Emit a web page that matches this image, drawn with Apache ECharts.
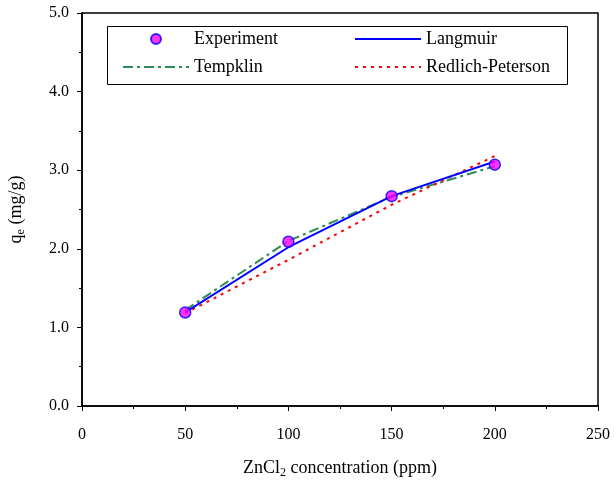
<!DOCTYPE html>
<html>
<head>
<meta charset="utf-8">
<script src="https://cdn.jsdelivr.net/npm/echarts@6/dist/echarts.min.js"></script>
<style>
  html, body { margin: 0; padding: 0; background: #fff; }
  #chart { width: 614px; height: 481px; }
</style>
</head>
<body>
<div id="chart"></div>
<script>
// ZnCl2 concentrations (ppm)
const concentrations = [50, 100, 150, 200];
// Measured uptake q_e (mg/g)
const experiment = [1.19, 2.09, 2.67, 3.07];
// Isotherm model fits (mg/g)
const langmuir = [1.19, 2.02, 2.67, 3.11];
const tempklin = [1.22, 2.10, 2.66, 3.05];
const redlichPeterson = [1.18, 1.86, 2.56, 3.18];

const xTicks = [0, 50, 100, 150, 200, 250];
const yTicks = [0, 1, 2, 3, 4, 5];

const pair = (ys) => concentrations.map((x, i) => [x, ys[i]]);
const FONT = '"Liberation Serif", "DejaVu Serif", serif';

// rich styles for titles with a subscript
const titleRich = {
  a: { fontFamily: FONT, fontSize: 18, color: '#000', height: 22, lineHeight: 22, verticalAlign: 'top' },
  s: { fontFamily: FONT, fontSize: 12, color: '#000', height: 13, lineHeight: 13, verticalAlign: 'bottom' }
};

const chart = echarts.init(document.getElementById('chart'), null, { renderer: 'canvas' });

const axisCommon = {
  axisLine: { show: true, lineStyle: { color: '#000', width: 1.5 } },
  axisTick: { show: true, inside: false, length: 5, lineStyle: { color: '#000', width: 1 } },
  minorTick: { show: true, splitNumber: 2, length: 3, lineStyle: { color: '#000', width: 1 } },
  splitLine: { show: false },
  axisLabel: { color: '#000', fontFamily: FONT, fontSize: 16 }
};

const legendText = { fontFamily: FONT, fontSize: 18, lineHeight: 20, color: '#000' };
const hiddenMarker = { opacity: 0 };

chart.setOption({
  animation: false,
  backgroundColor: '#fff',
  grid: {
    left: 82, right: 16, top: 13, bottom: 75,
    containLabel: false, outerBoundsMode: 'none',
    show: true, borderColor: '#000', borderWidth: 1.5, backgroundColor: 'transparent'
  },
  xAxis: Object.assign({}, axisCommon, {
    type: 'value',
    min: xTicks[0], max: xTicks[xTicks.length - 1], interval: 50,
    axisLabel: Object.assign({}, axisCommon.axisLabel, { margin: 21 }),
    name: '{a|ZnCl}{s|2}{a| concentration (ppm)}',
    nameLocation: 'middle',
    nameGap: 51,
    nameTextStyle: { rich: titleRich }
  }),
  yAxis: Object.assign({}, axisCommon, {
    type: 'value',
    min: yTicks[0], max: yTicks[yTicks.length - 1], interval: 1,
    axisLabel: Object.assign({}, axisCommon.axisLabel, {
      margin: 13,
      formatter: (v) => v.toFixed(1)
    }),
    name: '{a|q}{s|e}{a| (mg/g)}',
    nameLocation: 'middle',
    nameGap: 55,
    nameTextStyle: { rich: titleRich }
  }),
  legend: [
    {
      left: 122, top: 29, orient: 'vertical', itemGap: 8, padding: 0,
      itemWidth: 66, itemHeight: 10,
      data: ['Experiment', { name: 'Tempklin', itemStyle: hiddenMarker }],
      textStyle: legendText
    },
    {
      left: 354, top: 29, orient: 'vertical', itemGap: 8, padding: 0,
      itemWidth: 66, itemHeight: 10,
      data: [{ name: 'Langmuir', itemStyle: hiddenMarker }, { name: 'Redlich-Peterson', itemStyle: hiddenMarker }],
      textStyle: legendText
    }
  ],
  graphic: [
    {
      type: 'rect', left: 107, top: 26, z: 0,
      shape: { width: 460, height: 58 },
      style: { fill: '#fff', stroke: '#000', lineWidth: 1 }
    }
  ],
  series: [
    {
      name: 'Langmuir', type: 'line', data: pair(langmuir),
      symbol: 'none', z: 3,
      lineStyle: { color: '#0000FF', width: 2 },
      itemStyle: { color: '#0000FF' }
    },
    {
      name: 'Tempklin', type: 'line', data: pair(tempklin),
      symbol: 'none', z: 2,
      lineStyle: { color: '#2E8B57', width: 2, type: [10, 4, 3, 4] },
      itemStyle: { color: '#2E8B57' }
    },
    {
      name: 'Redlich-Peterson', type: 'line', data: pair(redlichPeterson),
      symbol: 'none', z: 2,
      lineStyle: { color: '#FF0000', width: 2, type: [3, 5] },
      itemStyle: { color: '#FF0000' }
    },
    {
      name: 'Experiment', type: 'scatter', data: pair(experiment),
      symbol: 'circle', symbolSize: 11, z: 5,
      itemStyle: { color: '#FF00FF', borderColor: '#0000FF', borderWidth: 1.5 }
    }
  ]
});
</script>
</body>
</html>
